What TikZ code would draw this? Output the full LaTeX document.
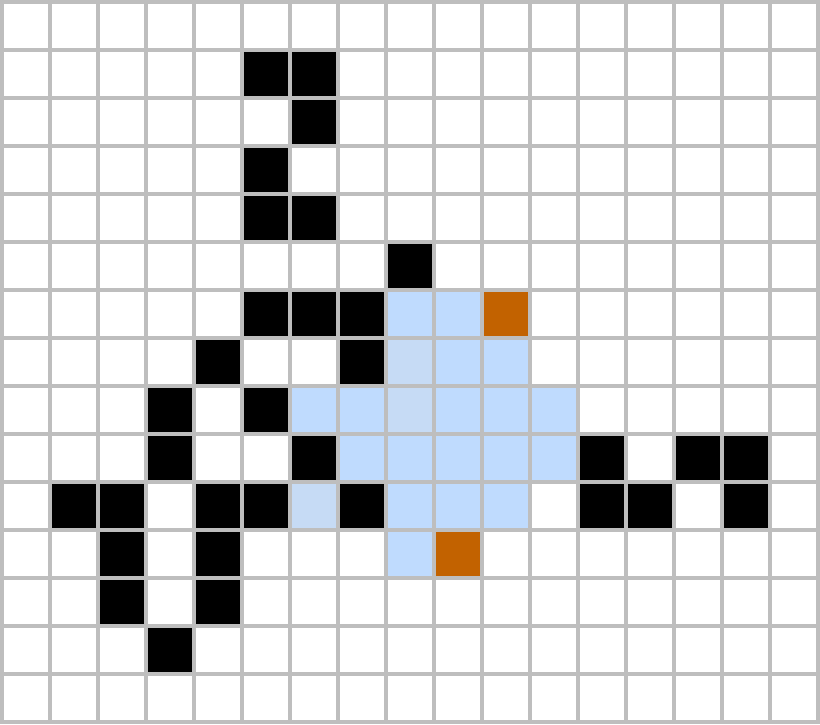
\documentclass[tikz,border=0pt]{standalone}
\definecolor{gridgray}{RGB}{190,190,190}
\definecolor{cellblue}{RGB}{191,219,254}
\definecolor{cellpale}{RGB}{198,219,245}
\definecolor{cellorange}{RGB}{194,98,0}
\begin{document}
\begin{tikzpicture}[x=1pt,y=-1pt]
\useasboundingbox (0,0) rectangle (820,724);
\fill[white] (0,0) rectangle (820,724);
\newcommand{\cellfill}[3]{\fill[#1] ({2+48*#3},{2+48*#2}) rectangle ({50+48*#3},{50+48*#2});}
% black cells: row/col
\foreach \r/\c in {1/5,1/6,2/6,3/5,4/5,4/6,5/8,6/5,6/6,6/7,7/4,7/7,8/3,8/5,9/3,9/6,9/12,9/14,9/15,10/1,10/2,10/4,10/5,10/7,10/12,10/13,10/15,11/2,11/4,12/2,12/4,13/3}
  {\cellfill{black}{\r}{\c}}
\foreach \r/\c in {6/8,6/9,7/9,7/10,8/6,8/7,8/9,8/10,8/11,9/7,9/8,9/9,9/10,9/11,10/8,10/9,10/10,11/8}
  {\cellfill{cellblue}{\r}{\c}}
\foreach \r/\c in {7/8,8/8,10/6}
  {\cellfill{cellpale}{\r}{\c}}
\foreach \r/\c in {6/10,11/9}
  {\cellfill{cellorange}{\r}{\c}}
\foreach \k in {0,...,17} \draw[gridgray,line width=4] ({2+48*\k},0) -- ({2+48*\k},724);
\foreach \k in {0,...,15} \draw[gridgray,line width=4] (0,{2+48*\k}) -- (820,{2+48*\k});
\end{tikzpicture}
\end{document}
